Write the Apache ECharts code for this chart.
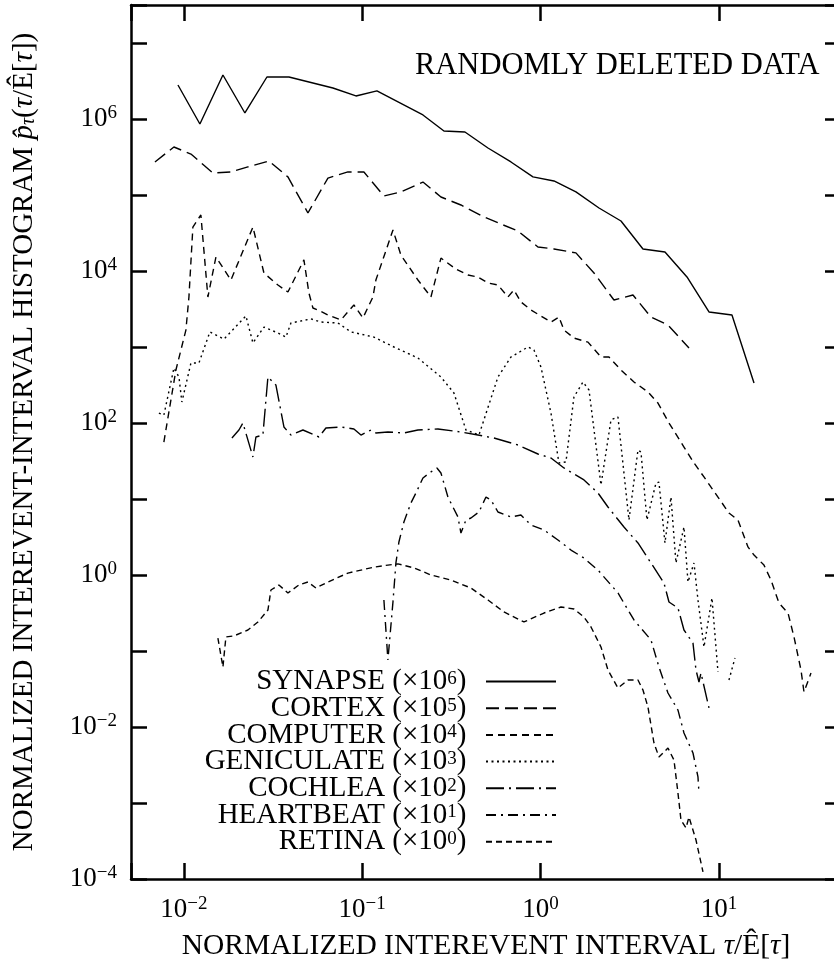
<!DOCTYPE html>
<html>
<head>
<meta charset="utf-8">
<script src="https://cdn.jsdelivr.net/npm/echarts@6/dist/echarts.min.js"></script>
<style>
html, body { margin: 0; padding: 0; background: #fff; }
#chart { width: 834px; height: 964px; }
</style>
</head>
<body>
<div id="chart"></div>
<script>
// 系列名称与纵向偏移（×10^k）
const seriesNames = ['SYNAPSE', 'CORTEX', 'COMPUTER', 'GENICULATE', 'COCHLEA', 'HEARTBEAT', 'RETINA'];
const scaleExponents = [6, 5, 4, 3, 2, 1, 0];

// 数据：[归一化间隔, 直方图值]（已含 ×10^k 偏移）
const synapse = [
    [0.00926, 2.80e6], [0.01229, 8.59e5], [0.01655, 3.79e6], [0.02198, 1.20e6], [0.02921, 3.57e6],
    [0.03881, 3.57e6], [0.06849, 2.56e6], [0.09218, 2.01e6], [0.1209, 2.34e6], [0.2190, 1.13e6],
    [0.2872, 6.95e5], [0.3767, 6.74e5], [0.5071, 4.15e5], [0.6824, 2.72e5], [0.9066, 1.73e5],
    [1.189, 1.53e5], [1.579, 1.10e5], [2.127, 6.74e4], [2.825, 4.55e4], [3.752, 1.95e4],
    [4.985, 1.78e4], [6.624, 8.34e3], [8.801, 2.89e3], [11.84, 2.64e3], [15.74, 336]
];
const cortex = [
    [0.00688, 2.72e5], [0.00879, 4.28e5], [0.01095, 3.46e5], [0.01454, 1.95e5], [0.01835, 2.01e5],
    [0.02285, 2.34e5], [0.02997, 2.80e5], [0.03831, 1.73e5], [0.0496, 5.80e4], [0.06421, 1.67e5],
    [0.08312, 2.01e5], [0.1022, 2.01e5], [0.1323, 9.70e4], [0.1648, 1.10e5], [0.2190, 1.48e5],
    [0.2763, 9.41e4], [0.3577, 7.39e4], [0.4816, 5.14e4], [0.5997, 4.15e4], [0.7468, 3.36e4],
    [0.9670, 2.07e4], [1.189, 1.95e4], [1.579, 1.73e4], [1.994, 9.41e3], [2.580, 4.15e3],
    [3.298, 4.83e3], [4.160, 2.48e3], [5.182, 1.95e3], [6.798, 970]
];
const computer = [
    [0.00772, 56.2], [0.00902, 498], [0.01026, 1.67e3], [0.01067, 4.55e3], [0.01123, 3.79e4],
    [0.01245, 5.46e4], [0.01363, 4.55e3], [0.01512, 1.53e4], [0.01835, 7.61e3], [0.02438, 3.79e4],
    [0.0281, 9.41e3], [0.03367, 6.54e3], [0.03831, 5.29e3], [0.0471, 1.40e4], [0.05024, 5.14e3],
    [0.05291, 3.26e3], [0.05644, 3.07e3], [0.06421, 2.64e3], [0.07595, 2.27e3], [0.08982, 3.57e3],
    [0.1009, 2.41e3], [0.1148, 4.55e3], [0.1193, 7.61e3], [0.1487, 3.46e4], [0.1648, 1.62e4],
    [0.2053, 7.61e3], [0.2428, 4.55e3], [0.2763, 1.48e4], [0.3353, 1.06e4], [0.3915, 8.86e3],
    [0.4456, 8.34e3], [0.5071, 6.95e3], [0.5769, 6.54e3], [0.6564, 4.55e3], [0.7093, 5.62e3],
    [0.7763, 3.91e3], [0.8834, 3.07e3], [1.144, 2.13e3], [1.268, 2.48e3], [1.353, 1.67e3],
    [1.539, 1.31e3], [1.845, 1.16e3], [2.182, 739], [2.419, 739], [2.825, 498],
    [3.341, 346], [4.002, 256], [4.554, 183], [5.25, 100], [6.372, 48.3],
    [7.251, 29.8], [8.25, 19.5], [9.884, 10.6], [11.39, 6.54], [12.80, 5.29],
    [14.56, 2.34], [15.74, 1.83], [17.90, 1.35], [19.60, 0.859], [21.73, 0.428],
    [24.42, 0.316], [26.38, 0.153], [28.87, 0.0562], [30.01, 0.0289], [32.85, 0.0513]
];
const geniculate = [
    [0.00724, 135], [0.00772, 127], [0.00879, 529], [0.00938, 403], [0.00974, 189],
    [0.01095, 616], [0.01214, 616], [0.01399, 1.58e3], [0.01677, 1.27e3], [0.02227, 2.56e3],
    [0.02438, 1.13e3], [0.0281, 1.83e3], [0.03367, 1.53e3], [0.03733, 1.35e3], [0.03983, 2.07e3],
    [0.05156, 2.34e3], [0.05867, 2.13e3], [0.07306, 2.07e3], [0.08641, 1.58e3], [0.1163, 1.35e3],
    [0.1506, 1.00e3], [0.2053, 716], [0.2763, 403], [0.3268, 248], [0.3816, 80.9],
    [0.4514, 69.5], [0.5769, 403], [0.6824, 739], [0.85, 1.00e3], [0.9183, 913],
    [1.005, 546], [1.144, 135], [1.268, 29.8], [1.388, 30.7], [1.539, 220],
    [1.729, 346], [1.869, 272], [2.182, 15.3], [2.483, 110], [2.717, 120],
    [3.132, 5.29], [3.518, 44.1], [3.657, 41.5], [3.951, 5.29], [4.438, 16.2],
    [4.613, 16.7], [4.985, 2.64], [5.387, 10.6], [5.746, 1.44], [6.372, 4.28],
    [6.710, 0.809], [7.251, 1.44], [7.635, 0.469], [8.25, 0.113], [9.148, 0.498],
    [9.884, 0.0529], [10.6, null], [11.39, 0.0415], [12.31, 0.0809]
];
const cochlea = [
    [0.01859, 63.5], [0.02035, 80.9], [0.02142, 100], [0.02438, 35.7], [0.02534, 65.4],
    [0.02773, 69.5], [0.02959, 403], [0.03281, 316], [0.03638, 88.6], [0.03983, 69.5],
    [0.0465, 80.9], [0.05717, 65.4], [0.06257, 86.0], [0.07595, 88.6], [0.08982, 83.4],
    [0.09834, 69.5], [0.1119, 80.9], [0.1193, 73.9], [0.1393, 76.1], [0.1713, 73.9],
    [0.2053, 80.9], [0.2658, 83.4], [0.3577, 76.1], [0.4456, 69.5], [0.5479, 63.5],
    [0.7468, 51.4], [0.967, 39.1], [1.144, 34.6], [1.353, 25.6], [1.752, 17.8],
    [2.099, 12.0], [2.388, 7.85], [2.936, 4.28], [3.518, 2.64], [4.16, 1.44],
    [4.921, 0.785], [5.25, 0.441], [5.897, 0.368], [6.372, 0.189], [7.158, 0.127],
    [7.441, 0.0562], [7.735, 0.0391], [7.937, 0.0513], [8.801, 0.0178]
];
const heartbeat = [
    [0.1323, 0.469], [0.1393, 0.0761], [0.1487, 0.441], [0.1545, 1.44], [0.1606, 2.72],
    [0.1713, 4.98], [0.1875, 8.86], [0.2001, 12.0], [0.219, 18.9], [0.2428, 22.7],
    [0.2624, 25.6], [0.2763, 22.0], [0.3024, 10.6], [0.3441, 5.80], [0.3577, 3.57],
    [0.3816, 5.29], [0.4071, 5.62], [0.4514, 6.74], [0.4942, 10.6], [0.5271, 9.70],
    [0.5769, 6.74], [0.6824, 5.80], [0.7763, 6.16], [0.8834, 4.55], [1.045, 3.91],
    [1.252, 2.89], [1.481, 2.13], [1.752, 1.67], [2.099, 1.16], [2.717, 0.580],
    [3.341, 0.256], [4.16, 0.140], [4.613, 0.0616], [5.182, 0.0280], [5.897, 0.0167],
    [6.372, 0.00834], [7.158, 0.00455], [7.635, 0.0022], [7.735, 0.00135]
];
const retina = [
    [0.01551, 0.148], [0.01655, 0.0616], [0.0172, 0.153], [0.01908, 0.158], [0.02285, 0.189],
    [0.026, 0.241], [0.02959, 0.346], [0.03076, 0.635], [0.0341, 0.739], [0.03831, 0.580],
    [0.04416, 0.739], [0.0496, 0.809], [0.055, 0.674], [0.06421, 0.809], [0.08312, 1.06],
    [0.09834, 1.16], [0.1163, 1.27], [0.1393, 1.35], [0.1586, 1.40], [0.195, 1.24],
    [0.2428, 1.0], [0.3144, 0.859], [0.4071, 0.674], [0.5071, 0.469], [0.6234, 0.326],
    [0.807, 0.241], [1.045, 0.316], [1.301, 0.379], [1.539, 0.357], [1.752, 0.280],
    [1.918, 0.207], [2.182, 0.113], [2.388, 0.0562], [2.717, 0.0326], [3.092, 0.0415],
    [3.518, 0.0415], [3.752, 0.0307], [4.002, 0.0183], [4.325, 0.00616], [4.613, 0.00403],
    [5.182, 0.00529], [5.6, 0.00368], [5.897, 0.00135], [6.13, 0.000597], [6.539, 0.000469],
    [6.798, 0.000654], [7.441, 0.000326], [8.144, 0.000124]
];

const seriesData = [synapse, cortex, computer, geniculate, cochlea, heartbeat, retina];
const dashTypes = ['solid', [13, 6], [7, 5], [2, 3.5], [18, 5, 2, 5], [10, 5, 2, 5], [6, 4]];

const FONT = '"Liberation Serif", "DejaVu Serif", serif';
const X_MIN = 0.00505, X_MAX = 48.4;
const Y_MIN = 1e-4, Y_MAX = 3.162e7;

// 仅在 10 的整数次幂处显示标签；纵轴只标偶数次幂
function powerLabel(v, evenOnly) {
    const e = Math.log10(v);
    const k = Math.round(e);
    if (Math.abs(e - k) > 1e-6) return '';
    if (evenOnly && Math.abs(k) % 2 === 1) return '';
    const s = k < 0 ? '\u2212' + (-k) : String(k);
    return '10{sup|' + s + '}';
}

const supStyle = { fontSize: 19, fontFamily: FONT, verticalAlign: 'top', lineHeight: 18, color: '#000' };
const itStyle = { fontStyle: 'italic', fontSize: 29, fontFamily: FONT, color: '#000' };
const subStyle = { fontStyle: 'italic', fontSize: 20, fontFamily: FONT, verticalAlign: 'bottom', lineHeight: 20, color: '#000' };

const axisLine = { show: true, lineStyle: { color: '#000', width: 2.5 } };
const axisTick = { show: true, inside: true, length: 16, lineStyle: { color: '#000', width: 2.5 } };

const chart = echarts.init(document.getElementById('chart'));

const option = {
    backgroundColor: '#fff',
    animation: false,
    grid: { left: 131, width: 710, top: 5, bottom: 85, outerBoundsMode: 'none' },
    legend: {
        data: seriesNames,
        orient: 'vertical',
        align: 'right',
        right: 277,
        top: 667,
        padding: 0,
        itemWidth: 70,
        itemHeight: 12,
        itemGap: -2.3,
        itemStyle: { opacity: 0 },
        textStyle: {
            fontFamily: FONT,
            fontSize: 29,
            lineHeight: 24,
            color: '#000',
            rich: { sup: supStyle }
        },
        formatter: (name) => {
            const k = scaleExponents[seriesNames.indexOf(name)];
            return name + ' (\u00d710{sup|' + k + '})\u2002';
        }
    },
    graphic: [{
        type: 'text',
        x: 415,
        y: 66,
        style: {
            text: 'RANDOMLY DELETED DATA',
            fontFamily: FONT,
            fontSize: 30.5,
            fill: '#000',
            verticalAlign: 'middle'
        }
    }],
    xAxis: [{
        type: 'log',
        min: X_MIN,
        max: X_MAX,
        splitNumber: 4,
        position: 'bottom',
        axisLine: axisLine,
        axisTick: axisTick,
        splitLine: { show: false },
        axisLabel: {
            margin: 16,
            fontFamily: FONT,
            fontSize: 27,
            lineHeight: 30,
            color: '#000',
            formatter: (v) => powerLabel(v, false),
            rich: { sup: supStyle }
        },
        name: 'NORMALIZED INTEREVENT INTERVAL {it|\u03c4}/\u00ca[{it|\u03c4}]',
        nameLocation: 'middle',
        nameGap: 52,
        nameTextStyle: {
            fontFamily: FONT,
            fontSize: 29.5,
            color: '#000',
            rich: { it: itStyle }
        }
    }, {
        type: 'log',
        min: X_MIN,
        max: X_MAX,
        splitNumber: 4,
        position: 'top',
        axisLine: axisLine,
        axisTick: axisTick,
        axisLabel: { show: false },
        splitLine: { show: false }
    }],
    yAxis: [{
        type: 'log',
        min: Y_MIN,
        max: Y_MAX,
        interval: 1,
        position: 'left',
        axisLine: axisLine,
        axisTick: axisTick,
        splitLine: { show: false },
        axisLabel: {
            margin: 14,
            fontFamily: FONT,
            fontSize: 27,
            lineHeight: 30,
            color: '#000',
            formatter: (v) => powerLabel(v, true),
            rich: { sup: supStyle }
        },
        name: 'NORMALIZED INTEREVENT-INTERVAL HISTOGRAM {it|p\u0302}{sub|\u03c4}({it|\u03c4}/\u00ca[{it|\u03c4}])',
        nameLocation: 'middle',
        nameRotate: 90,
        nameGap: 92,
        nameTextStyle: {
            fontFamily: FONT,
            fontSize: 29,
            color: '#000',
            rich: { it: itStyle, sub: subStyle }
        }
    }, {
        type: 'log',
        min: Y_MIN,
        max: Y_MAX,
        interval: 1,
        position: 'right',
        axisLine: axisLine,
        axisTick: axisTick,
        axisLabel: { show: false },
        splitLine: { show: false }
    }],
    series: seriesNames.map((name, i) => ({
        name: name,
        type: 'line',
        data: seriesData[i],
        symbol: 'none',
        connectNulls: false,
        silent: true,
        lineStyle: { color: '#000', width: 1.4, type: dashTypes[i] },
        itemStyle: { color: '#000' }
    }))
};

chart.setOption(option);
</script>
</body>
</html>
